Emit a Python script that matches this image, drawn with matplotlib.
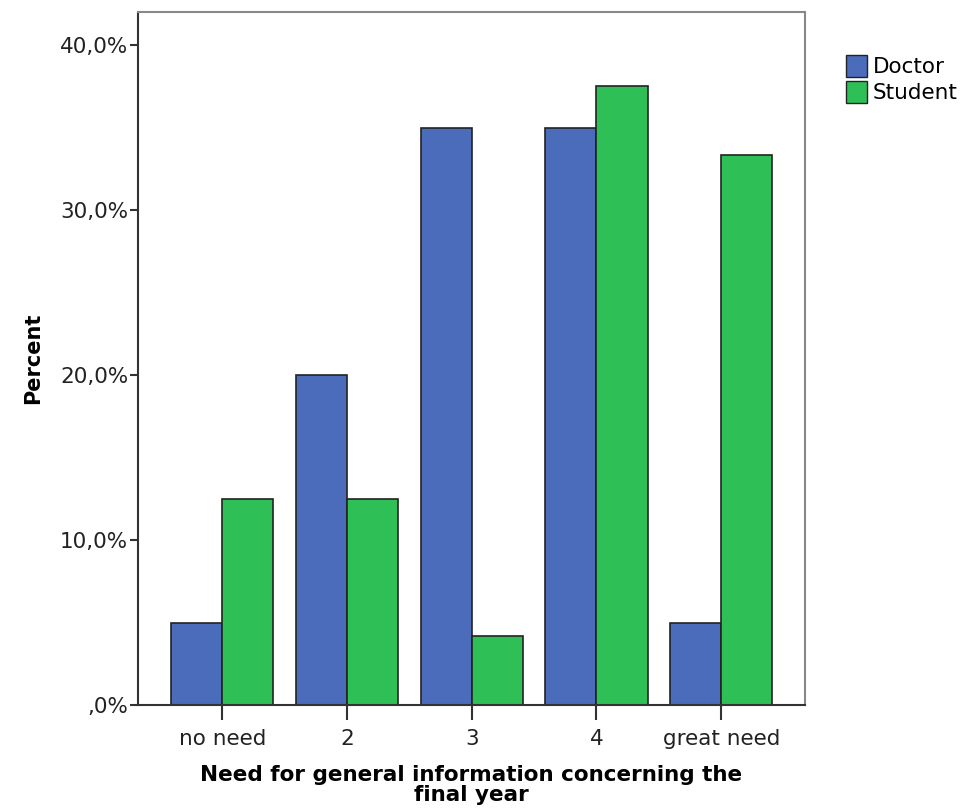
import matplotlib
matplotlib.use("Agg")
import matplotlib.pyplot as plt
import numpy as np
from matplotlib.patches import Patch

categories = ["no need", "2", "3", "4", "great need"]
doctor = [5.0, 20.0, 35.0, 35.0, 5.0]
student = [12.5, 12.5, 4.17, 37.5, 33.33]
yticks = [0, 10, 20, 30, 40]
ytick_labels = [",0%", "10,0%", "20,0%", "30,0%", "40,0%"]

c_doc = "#4a6cba"
c_stu = "#2fbf57"

plt.rcParams["font.family"] = ["DejaVu Sans"]

fig = plt.figure(figsize=(9.72, 8.11), dpi=100)
ax = fig.add_axes([0.142, 0.1307, 0.686, 0.8543])

x = np.arange(len(categories))
w = 0.41
ax.bar(x - w/2, doctor, w, color=c_doc, edgecolor="#222222", linewidth=1.2)
ax.bar(x + w/2, student, w, color=c_stu, edgecolor="#222222", linewidth=1.2)

ax.set_xlim(-0.675, 4.67)
ax.set_ylim(0, 40 * 693 / 660)
ax.set_yticks(yticks)
ax.set_yticklabels(ytick_labels, fontsize=15.5, color="#222222")
ax.set_xticks(x)
ax.set_xticklabels(categories, fontsize=15.5, color="#222222")
ax.tick_params(axis="y", direction="out", length=6, width=1.5, color="#333333", pad=1)
ax.tick_params(axis="x", direction="out", length=11, width=1.5, color="#333333", pad=6)

for s in ["top", "right"]:
    ax.spines[s].set_color("#888888")
    ax.spines[s].set_linewidth(1.5)
for s in ["left", "bottom"]:
    ax.spines[s].set_color("#333333")
    ax.spines[s].set_linewidth(1.5)

ax.set_ylabel("Percent", fontsize=15, fontweight="bold", labelpad=12)
ax.set_xlabel("Need for general information concerning the\nfinal year",
              fontsize=15.5, fontweight="bold", labelpad=12, linespacing=1.0)

handles = [Patch(facecolor=c_doc, edgecolor="#222222", label="Doctor"),
           Patch(facecolor=c_stu, edgecolor="#222222", label="Student")]
fig.legend(handles=handles, loc="upper left", bbox_to_anchor=(0.859, 0.946),
           frameon=False, fontsize=15.5, handlelength=1.0, handleheight=1.25,
           handletextpad=0.25, labelspacing=0.15, borderpad=0)

fig.savefig("out.png", dpi=100)
